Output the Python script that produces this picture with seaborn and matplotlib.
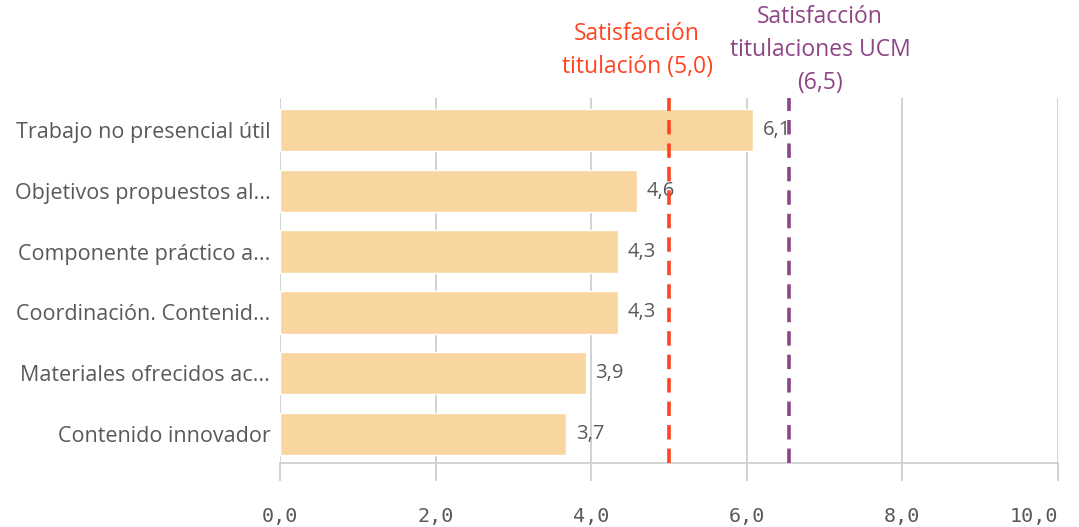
import pandas as pd
import matplotlib.pyplot as plt
import matplotlib.transforms as mtransforms
import seaborn as sns
from matplotlib.ticker import FuncFormatter

# data
categories = [
    "Trabajo no presencial útil",
    "Objetivos propuestos al...",
    "Componente práctico a...",
    "Coordinación. Contenid...",
    "Materiales ofrecidos ac...",
    "Contenido innovador",
]
values = [6.08, 4.59, 4.34, 4.34, 3.93, 3.68]
ref_titulacion = 5.0
ref_ucm = 6.54
xticks = [0, 2, 4, 6, 8, 10]

df = pd.DataFrame({"item": categories, "score": values})

sns.set_style("white")
plt.rcParams["font.family"] = ["Open Sans", "DejaVu Sans"]

text_gray = "#595959"
grid_gray = "#cfcfcf"
bar_color = "#f9d6a0"
red = "#ff4422"
purple = "#8e4585"

fig = plt.figure(figsize=(10.79, 5.27), dpi=100)
ax = fig.add_axes([0.2595, 0.1214, 0.721, 0.6926])

sns.barplot(data=df, x="score", y="item", color=bar_color, width=0.7,
            saturation=1, ax=ax, zorder=2)

ax.set_xlim(0, 10)
ax.set_ylim(5.48, -0.53)
ax.set_xticks(xticks)
ax.xaxis.set_major_formatter(FuncFormatter(lambda v, p: f"{v:.1f}".replace(".", ",")))
ax.grid(axis="x", color=grid_gray, linewidth=1.3, zorder=0)
ax.set_xlabel("")
ax.set_ylabel("")

for side in ["top", "right", "left"]:
    ax.spines[side].set_visible(False)
ax.spines["bottom"].set_color(grid_gray)
ax.spines["bottom"].set_linewidth(1.3)

ax.tick_params(axis="x", bottom=True, length=13, width=1.3, color=grid_gray,
               pad=19, labelsize=14.5, labelcolor=text_gray)
for lbl in ax.get_xticklabels():
    lbl.set_fontfamily("DejaVu Sans Mono")
ax.get_xticklabels()[-1].set_ha("right")
ax.tick_params(axis="y", left=False, length=0, pad=7, labelsize=15.5,
               labelcolor=text_gray)

labels = [f"{v:.1f}".replace(".", ",") for v in values]
ax.bar_label(ax.containers[0], labels=labels, padding=7, fontsize=14.5,
             color=text_gray)

ax.axvline(ref_titulacion, color=red, linestyle=(0, (4, 2.5)), linewidth=2.6, zorder=3)
ax.axvline(ref_ucm, color=purple, linestyle=(0, (4, 2.5)), linewidth=2.6, zorder=3)

trans = mtransforms.blended_transform_factory(ax.transData, fig.transFigure)
ax.text(ref_titulacion - 0.41, 0.905,
        f"Satisfacción\ntitulación ({ref_titulacion:.1f})".replace(".", ","),
        color=red, fontsize=16.5, ha="center", va="center", linespacing=1.5,
        transform=trans)
ax.text(ref_ucm + 0.4, 0.905,
        "Satisfacción\ntitulaciones UCM\n(6,5)",
        color=purple, fontsize=16.5, ha="center", va="center", linespacing=1.5,
        transform=trans)

fig.savefig("out.png", dpi=100)
